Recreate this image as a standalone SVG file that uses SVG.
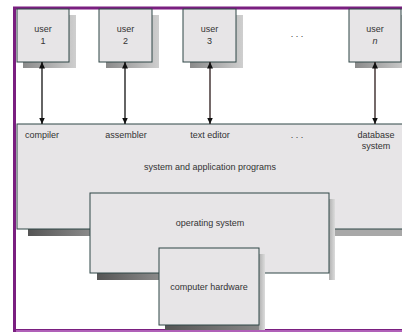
<svg xmlns="http://www.w3.org/2000/svg" width="402" height="333" viewBox="0 0 402 333">
<defs>
<style>
.box{fill:#e7e5e7;stroke:#2f4646;stroke-width:1}
.t{font-family:"Liberation Sans",Arial,sans-serif;font-size:9px;fill:#333;text-anchor:middle}
.ln{stroke:#111;stroke-width:1.3;fill:none}
.ln2{stroke:#2a1a1a;stroke-width:1.3;fill:none}
</style>
<linearGradient id="shH" x1="0" y1="0" x2="1" y2="0">
<stop offset="0" stop-color="#8a8a8a"/><stop offset="1" stop-color="#cfcfcf"/>
</linearGradient>
<linearGradient id="shV" x1="0" y1="0" x2="1" y2="0">
<stop offset="0" stop-color="#b0b0b0"/><stop offset="1" stop-color="#dcdcdc"/>
</linearGradient>
<linearGradient id="shD" x1="0" y1="0" x2="1" y2="0">
<stop offset="0" stop-color="#555"/><stop offset="1" stop-color="#8a8a8a"/>
</linearGradient>
<marker id="ah" viewBox="0 0 10 10" refX="10" refY="5" markerWidth="6.5" markerHeight="6" orient="auto-start-reverse" markerUnits="userSpaceOnUse" preserveAspectRatio="none">
<path d="M0,0 L10,5 L0,10 z" fill="#111"/>
</marker>
</defs>
<rect x="0" y="0" width="402" height="333" fill="#fff"/>
<!-- frame -->
<rect x="14.5" y="8" width="400" height="322.5" fill="none" stroke="#7a1f80" stroke-width="3"/>
<line x1="16" y1="331" x2="402" y2="331" stroke="#b060b8" stroke-width="2"/>

<!-- system and application programs -->
<g id="programs">
<rect x="28" y="229" width="62" height="7" fill="url(#shD)"/>
<rect x="334" y="229" width="68" height="7" fill="#a8a8a8"/>
<rect class="box" x="17" y="124" width="390" height="105"/>
<text class="t" x="42" y="138">compiler</text>
<text class="t" x="126" y="138">assembler</text>
<text class="t" x="210" y="138">text editor</text>
<text class="t" x="297" y="138">. . .</text>
<text class="t" x="376" y="138">database</text>
<text class="t" x="376" y="149">system</text>
<text class="t" x="210" y="170">system and application programs</text>
</g>

<!-- operating system -->
<g id="os">
<rect x="97" y="273" width="62" height="7" fill="url(#shD)"/>
<rect x="329" y="199" width="6" height="81" fill="url(#shV)"/>
<rect class="box" x="90" y="193" width="239" height="80"/>
<text class="t" x="210" y="226">operating system</text>
</g>

<!-- computer hardware -->
<g id="hw">
<rect x="165" y="325" width="100" height="5" fill="url(#shD)"/>
<rect x="259" y="254" width="6" height="76" fill="url(#shV)"/>
<rect class="box" x="159" y="248" width="100" height="77"/>
<text class="t" x="209" y="290">computer hardware</text>
</g>

<!-- users -->
<g id="user1">
<rect x="23" y="15" width="53" height="53" fill="url(#shH)"/>
<rect class="box" x="17" y="9" width="52" height="53"/>
<text class="t" x="43" y="32">user</text>
<text class="t" x="43" y="44">1</text>
</g>
<g id="user2">
<rect x="106" y="15" width="53" height="53" fill="url(#shH)"/>
<rect class="box" x="99" y="9" width="53" height="53"/>
<text class="t" x="125.5" y="32">user</text>
<text class="t" x="125.5" y="44">2</text>
</g>
<g id="user3">
<rect x="190" y="15" width="53" height="53" fill="url(#shH)"/>
<rect class="box" x="183" y="9" width="53" height="53"/>
<text class="t" x="209.5" y="32">user</text>
<text class="t" x="209.5" y="44">3</text>
</g>
<text class="t" x="297" y="37">. . .</text>
<g id="usern">
<rect x="355" y="15" width="53" height="53" fill="url(#shH)"/>
<rect class="box" x="349" y="9" width="52" height="53"/>
<text class="t" x="375" y="32">user</text>
<text class="t" x="375" y="44" font-style="italic">n</text>
</g>

<!-- connectors -->
<g id="connectors">
<line class="ln" x1="42" y1="62" x2="42" y2="124" marker-start="url(#ah)" marker-end="url(#ah)"/>
<line class="ln" x1="125" y1="62" x2="125" y2="124" marker-start="url(#ah)" marker-end="url(#ah)"/>
<line class="ln2" x1="210" y1="62" x2="210" y2="124" marker-start="url(#ah)" marker-end="url(#ah)"/>
<line class="ln2" x1="375" y1="62" x2="375" y2="124" marker-start="url(#ah)" marker-end="url(#ah)"/>
</g>
</svg>
